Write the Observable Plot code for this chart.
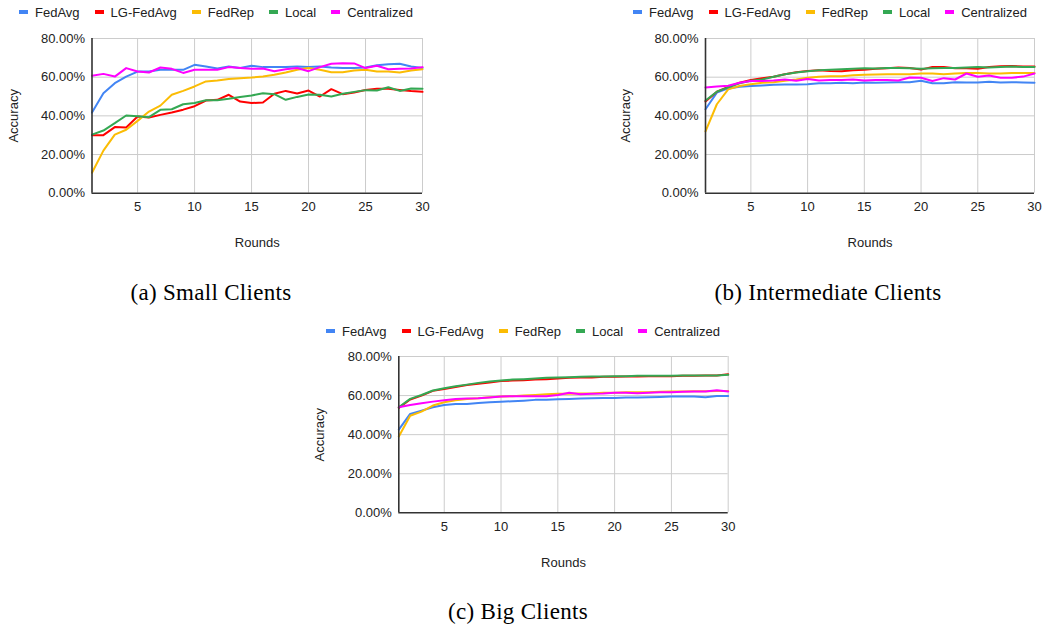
<!DOCTYPE html>
<html>
<head>
<meta charset="utf-8">
<script src="https://cdn.jsdelivr.net/npm/d3@7"></script>
<script src="https://cdn.jsdelivr.net/npm/@observablehq/plot@0.6"></script>
<style>
  html, body { margin: 0; padding: 0; background: #fff; }
  #root { position: relative; width: 1042px; height: 626px; overflow: hidden; background: #fff; }
  .chart { position: absolute; }
  .legend { position: absolute; display: flex; align-items: center; gap: 15px;
            font-family: "Liberation Sans", Arial, sans-serif; font-size: 13px; color: #222; white-space: nowrap; }
  .legend .item { display: flex; align-items: center; }
  .legend .sw { width: 9px; height: 4px; margin-right: 7px; }
  .caption { position: absolute; font-family: "Liberation Serif", "Times New Roman", serif; font-size: 23px;
             letter-spacing: 0.3px; color: #000; white-space: nowrap; transform: translate(-50%, -50%); }
</style>
</head>
<body>
<div id="root"></div>
<script>
// ---------- data ----------
const rounds = d3.range(1, 31);
const seriesNames = ["FedAvg", "LG-FedAvg", "FedRep", "Local", "Centralized"];
const seriesColors = ["#4285F4", "#FF0000", "#FBBC04", "#34A853", "#FF00FF"];
const xTicks = [5, 10, 15, 20, 25, 30];
const yTicks = [0, 20, 40, 60, 80];
const captions = ["(a) Small Clients", "(b) Intermediate Clients", "(c) Big Clients"];

// (a) Small Clients
const fedavgA = [41.7, 51.7, 56.9, 60.3, 62.9, 62.9, 63.8, 63.8, 63.8, 66.4, 65.5, 64.5, 65.5, 64.7, 65.9, 65.2, 65.2, 65.2, 65.5, 65.2, 65.5, 65.0, 64.7, 64.7, 65.0, 66.2, 66.7, 66.9, 65.5, 64.8];
const lgA = [30.0, 30.0, 34.2, 34.0, 39.7, 39.1, 40.5, 41.7, 43.2, 45.0, 47.9, 48.3, 50.9, 47.4, 46.6, 46.9, 51.4, 52.9, 51.6, 53.1, 50.0, 53.8, 51.2, 52.1, 53.4, 54.0, 54.0, 53.4, 52.8, 52.4];
const fedrepA = [10.6, 22.0, 30.3, 32.8, 37.4, 42.2, 45.3, 50.9, 52.9, 55.2, 57.8, 58.3, 59.0, 59.5, 59.8, 60.3, 61.2, 62.4, 63.8, 64.7, 63.8, 62.6, 62.6, 63.4, 63.8, 62.9, 62.9, 62.4, 63.4, 64.1];
const localA = [30.3, 32.4, 36.2, 40.2, 39.8, 39.3, 43.1, 43.4, 46.0, 46.6, 48.1, 48.1, 48.8, 49.7, 50.5, 51.7, 51.2, 48.3, 49.8, 51.0, 50.9, 50.0, 51.4, 52.4, 53.3, 53.1, 54.8, 52.9, 54.1, 54.0];
const centralA = [60.7, 61.7, 60.3, 64.7, 62.9, 62.4, 65.0, 64.3, 62.2, 63.8, 63.8, 63.8, 65.2, 64.7, 64.3, 64.5, 63.1, 64.1, 64.7, 63.1, 65.2, 66.9, 67.2, 67.1, 64.7, 65.9, 64.1, 64.3, 64.5, 65.2];

// (b) Intermediate Clients
const fedavgB = [43.4, 52.0, 54.2, 55.0, 55.4, 55.7, 56.1, 56.2, 56.2, 56.4, 56.8, 56.9, 57.1, 56.8, 57.3, 57.1, 57.3, 57.4, 57.4, 58.1, 56.9, 56.8, 57.4, 57.3, 57.3, 57.6, 57.3, 57.4, 57.3, 57.1];
const lgB = [47.4, 52.5, 55.0, 57.1, 58.5, 59.5, 60.2, 61.5, 62.6, 63.2, 63.6, 63.2, 63.1, 63.6, 63.9, 64.3, 64.6, 65.0, 64.8, 63.9, 65.3, 65.3, 64.6, 64.6, 64.4, 65.3, 65.6, 65.8, 65.5, 65.5];
const fedrepB = [32.0, 46.0, 53.7, 55.4, 56.4, 57.1, 57.4, 58.1, 58.8, 59.7, 60.2, 60.5, 60.5, 61.0, 61.2, 61.4, 61.5, 61.5, 61.5, 61.9, 61.9, 61.5, 61.9, 62.1, 62.2, 61.9, 61.9, 62.1, 62.1, 62.2];
const localB = [47.9, 52.5, 54.7, 56.8, 58.1, 58.8, 60.2, 61.5, 62.4, 63.1, 63.6, 63.9, 64.1, 64.3, 64.6, 64.5, 64.8, 64.8, 64.6, 64.3, 64.6, 64.8, 64.8, 65.0, 65.3, 65.0, 65.3, 65.5, 65.3, 65.3];
const centralB = [54.7, 55.2, 55.6, 57.1, 58.0, 58.0, 58.3, 58.8, 58.1, 59.1, 58.3, 58.6, 58.5, 58.8, 58.3, 58.5, 58.6, 58.3, 59.8, 59.7, 58.0, 59.5, 58.8, 61.9, 60.2, 60.9, 59.7, 59.7, 60.3, 61.9];

// (c) Big Clients
const fedavgC = [42.6, 50.6, 52.3, 54.0, 55.2, 55.7, 55.7, 56.2, 56.6, 56.9, 57.1, 57.4, 57.8, 57.8, 58.1, 58.3, 58.5, 58.6, 58.8, 58.8, 59.0, 59.0, 59.1, 59.3, 59.5, 59.5, 59.5, 59.1, 59.8, 59.8];
const lgC = [53.7, 58.0, 60.0, 62.4, 63.4, 64.4, 65.4, 66.0, 66.7, 67.4, 67.7, 67.9, 68.2, 68.4, 68.7, 69.1, 69.2, 69.2, 69.6, 69.6, 69.7, 69.7, 69.9, 69.9, 69.9, 70.1, 70.1, 70.3, 70.3, 70.9];
const fedrepC = [39.1, 49.7, 51.8, 54.9, 56.6, 57.6, 58.3, 58.6, 59.1, 59.5, 59.7, 60.0, 60.3, 60.7, 60.9, 60.9, 61.0, 61.0, 61.4, 61.4, 61.7, 61.7, 61.7, 61.9, 62.1, 62.1, 62.2, 62.2, 62.4, 62.4];
const localC = [54.0, 58.3, 60.3, 62.6, 63.8, 64.8, 65.6, 66.5, 67.2, 67.7, 68.2, 68.4, 68.7, 69.1, 69.2, 69.4, 69.6, 69.7, 69.7, 69.9, 69.9, 70.1, 70.1, 70.1, 70.1, 70.3, 70.3, 70.3, 70.3, 70.6];
const centralC = [54.0, 55.2, 56.1, 56.9, 57.6, 58.3, 58.5, 58.6, 59.0, 59.5, 59.7, 59.7, 59.7, 59.7, 60.3, 61.4, 60.7, 60.9, 61.0, 61.4, 61.4, 61.2, 61.5, 61.7, 61.7, 61.9, 62.1, 62.1, 62.7, 62.1];

const chartValues = [
  [fedavgA, lgA, fedrepA, localA, centralA],
  [fedavgB, lgB, fedrepB, localB, centralB],
  [fedavgC, lgC, fedrepC, localC, centralC]
];

// ---------- layout ----------
const layouts = [
  { left: 0,   top: 24,  width: 440, height: 236, ml: 91.5, mr: 18,  mt: 14, mb: 67.3, yLab: 83,
    legend: { left: 19, top: 12.3 }, cap: { x: 211, y: 293 } },
  { left: 612, top: 24,  width: 430, height: 236, ml: 93,   mr: 8,   mt: 14, mb: 67.3, yLab: 84.5,
    legend: { left: 633, top: 12.3 }, cap: { x: 828, y: 293 } },
  { left: 306, top: 343, width: 440, height: 236, ml: 92.3, mr: 18.3, mt: 13, mb: 66.7, yLab: 83.8,
    legend: { left: 326, top: 331 }, cap: { x: 518, y: 611.5 } }
];

const root = document.getElementById("root");

chartValues.forEach((vals, ci) => {
  const L = layouts[ci];
  const rows = [];
  seriesNames.forEach((s, si) => {
    rounds.forEach((r, i) => rows.push({ round: r, series: s, acc: vals[si][i] }));
  });

  const svg = Plot.plot({
    width: L.width, height: L.height,
    marginLeft: L.ml, marginRight: L.mr, marginTop: L.mt, marginBottom: L.mb,
    style: { fontFamily: "'Liberation Sans', Arial, sans-serif", fontSize: "13px", color: "#222", background: "transparent", overflow: "visible" },
    x: { domain: [1, 30] },
    y: { domain: [0, 80] },
    color: { domain: seriesNames, range: seriesColors },
    marks: [
      Plot.gridX(xTicks, { stroke: "#cccccc", strokeOpacity: 1 }),
      Plot.gridY(yTicks.filter(d => d > 0), { stroke: "#cccccc", strokeOpacity: 1 }),
      Plot.axisX(xTicks, { tickSize: 0, tickPadding: 9, fill: "#222", label: "Rounds", labelAnchor: "center", labelArrow: "none", labelOffset: 54 }),
      Plot.axisY(yTicks, { tickSize: 0, tickPadding: 7, fill: "#222", tickFormat: d => d.toFixed(2) + "%",
        label: "Accuracy", labelAnchor: "center", labelArrow: "none", labelOffset: L.yLab }),
      Plot.lineY(rows, { x: "round", y: "acc", z: "series", stroke: "series", strokeWidth: 2 }),
      Plot.ruleX([1], { stroke: "#333", strokeWidth: 1.6 }),
      Plot.ruleY([0], { stroke: "#333", strokeWidth: 1.6 })
    ]
  });
  const wrap = document.createElement("div");
  wrap.className = "chart";
  wrap.style.left = L.left + "px";
  wrap.style.top = L.top + "px";
  wrap.appendChild(svg);
  root.appendChild(wrap);

  // legend
  const lg = document.createElement("div");
  lg.className = "legend";
  lg.style.left = L.legend.left + "px";
  lg.style.top = (L.legend.top - 8) + "px";
  lg.style.height = "16px";
  seriesNames.forEach((s, si) => {
    const it = document.createElement("div");
    it.className = "item";
    const sw = document.createElement("span");
    sw.className = "sw";
    sw.style.background = seriesColors[si];
    const tx = document.createElement("span");
    tx.textContent = s;
    it.appendChild(sw); it.appendChild(tx);
    lg.appendChild(it);
  });
  root.appendChild(lg);

  // caption
  const cap = document.createElement("div");
  cap.className = "caption";
  cap.style.left = L.cap.x + "px";
  cap.style.top = L.cap.y + "px";
  cap.textContent = captions[ci];
  root.appendChild(cap);
});
</script>
</body>
</html>
